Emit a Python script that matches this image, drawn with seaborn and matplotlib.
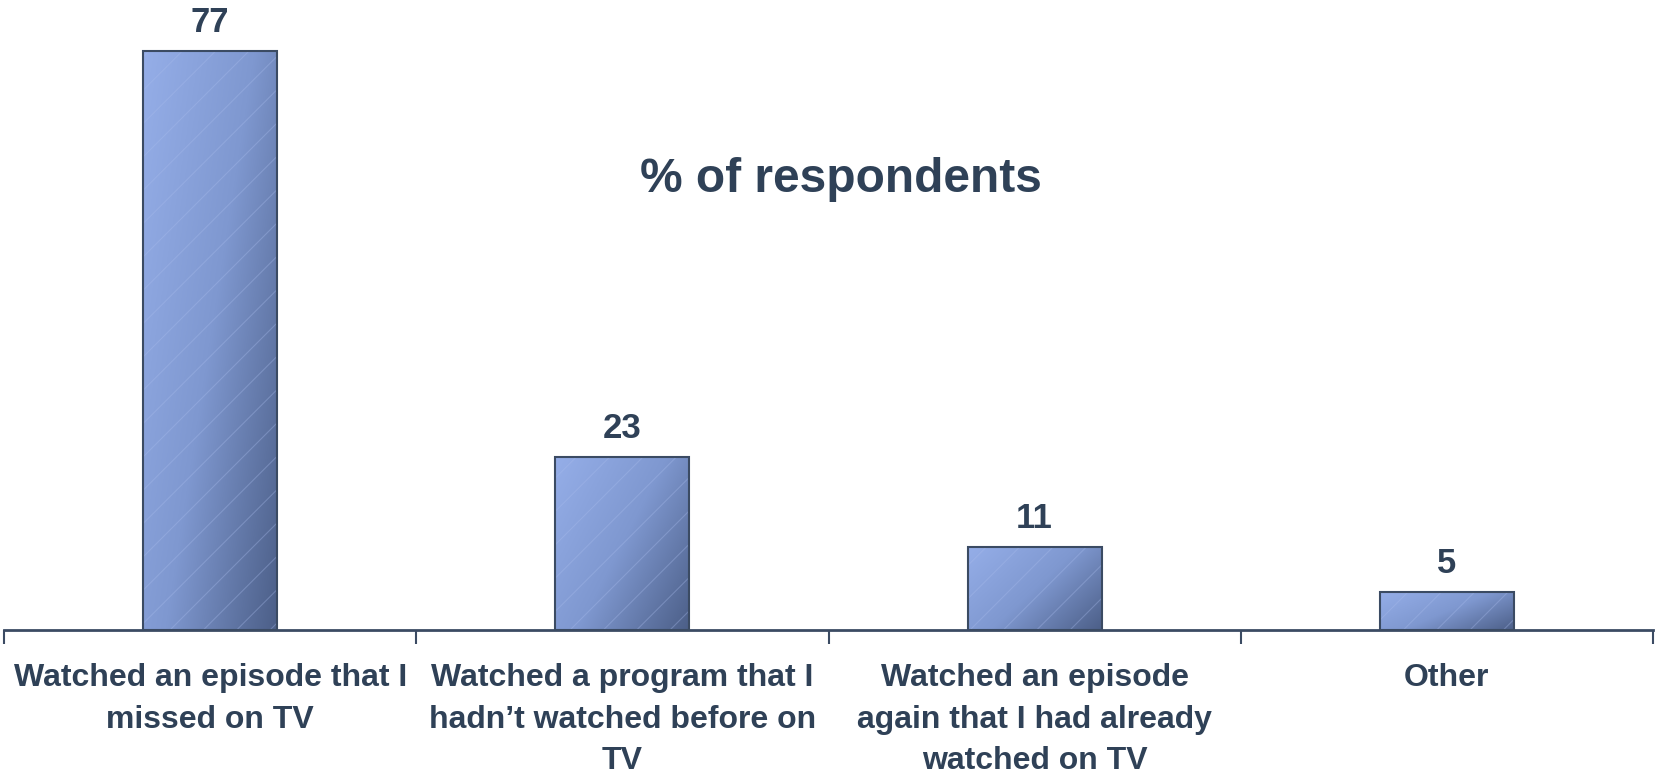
import numpy as np
import matplotlib
matplotlib.use("Agg")
import matplotlib.pyplot as plt
import seaborn as sns
from matplotlib.colors import LinearSegmentedColormap
from matplotlib.patches import Rectangle

categories = [
    "Watched an episode that I\nmissed on TV",
    "Watched a program that I\nhadn\u2019t watched before on\nTV",
    "Watched an episode\nagain that I had already\nwatched on TV",
    "Other",
]
values = [77, 23, 11, 5]
title_text = "% of respondents"

TEXT = "#2f4157"
EDGE = "#3b4b63"

sns.set_theme(style="white")
plt.rcParams["font.family"] = ["Liberation Sans", "DejaVu Sans"]
plt.rcParams["font.weight"] = "bold"
plt.rcParams["hatch.linewidth"] = 0.8

fig = plt.figure(figsize=(16.55, 7.76), dpi=100)
ax = fig.add_axes([4 / 1655, 146 / 776, (1653 - 4) / 1655, 630 / 776])

sns.barplot(x=categories, y=values, width=0.325, color="#7d95c8", ax=ax)

ax.set_ylim(0, 83.8)
ax.set_xlim(-0.5, 3.5)

cmap = LinearSegmentedColormap.from_list("g", ["#95aee8", "#7f98d0", "#4c5f88"])
gx, gy = np.meshgrid(np.linspace(0, 1, 200), np.linspace(0, 1, 200))
grad = 0.6 * gx + 0.4 * (1 - gy)
bars = list(ax.patches)
for p in bars:
    x0, y0 = p.get_x(), p.get_y()
    w, h = p.get_width(), p.get_height()
    im = ax.imshow(grad, extent=[x0, x0 + w, y0, y0 + h], origin="lower",
                   aspect="auto", cmap=cmap, vmin=0, vmax=1, zorder=2)
    im.set_clip_path(p)
    hp = Rectangle((x0, y0), w, h, facecolor="none", edgecolor="#a9bcec",
                   linewidth=0, hatch="/", alpha=0.35, zorder=2.5)
    ax.add_patch(hp)
    p.set_facecolor("none")
    p.set_edgecolor(EDGE)
    p.set_linewidth(1.5)
    p.set_zorder(3)

ax.set_xlim(-0.5, 3.5)
ax.set_ylim(0, 83.8)

for p, v in zip(bars, values):
    ax.annotate(str(v), (p.get_x() + p.get_width() / 2, p.get_height()),
                xytext=(0, 9), textcoords="offset points", ha="center", va="bottom",
                fontsize=25, fontweight="bold", color=TEXT)

for s in ["top", "right", "left"]:
    ax.spines[s].set_visible(False)
ax.spines["bottom"].set_color(EDGE)
ax.spines["bottom"].set_linewidth(2)
ax.spines["bottom"].set_zorder(4)
ax.set_yticks([])
ax.set_ylabel("")
ax.set_xlabel("")

ax.set_xticks(range(len(categories)))
ax.set_xticklabels(categories, fontsize=23, fontweight="bold", color=TEXT, linespacing=1.5)
ax.tick_params(axis="x", which="major", length=0, pad=24)
ax.set_xticks([-0.5, 0.5, 1.5, 2.5, 3.5], minor=True)
ax.tick_params(axis="x", which="minor", length=10, width=1.5, color=EDGE, bottom=True)

fig.text(841 / 1655, 1 - 179 / 776, title_text, ha="center", va="center",
         fontsize=34.5, fontweight="bold", color=TEXT)

fig.savefig("out.png", dpi=100, facecolor="white")
